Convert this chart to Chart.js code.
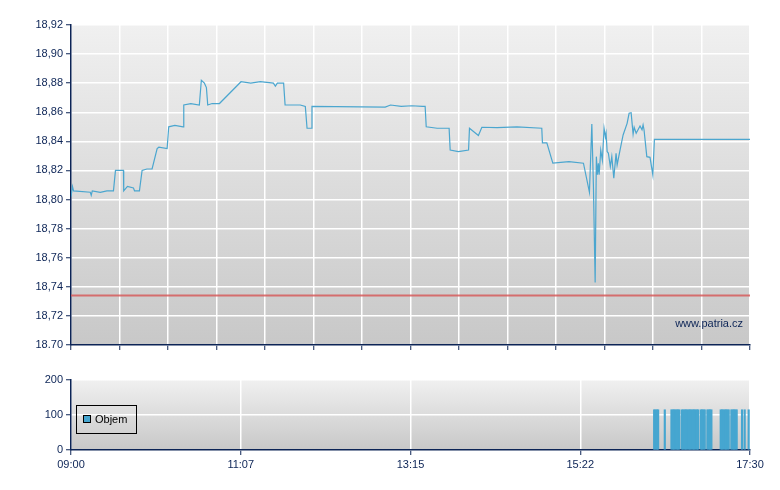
<!DOCTYPE html>
<html>
<head>
<meta charset="utf-8">
<script src="https://cdn.jsdelivr.net/npm/chart.js@4/dist/chart.umd.min.js"></script>
<style>
body { margin: 0; background: #fff; }
#wrap { position: relative; width: 780px; height: 490px; }
#priceChart { position: absolute; left: 0; top: 0; }
#volChart { position: absolute; left: 0; top: 360px; }
</style>
</head>
<body>
<div id="wrap">
  <canvas id="priceChart" width="780" height="360"></canvas>
  <canvas id="volChart" width="780" height="130"></canvas>
</div>
<script>
// minuty od 09:00
const priceMinutes = [0, 1.1, 1.9, 14.5, 15.2, 16, 22, 27, 31.9, 33.4, 39.4, 39.6, 42.4, 46.9, 47.7, 51.4,
  53.4, 57, 60.9, 64.7, 66, 72.2, 73.4, 78, 84.2, 84.7, 90, 96.4, 97.9, 100.2, 101.7, 102.7, 106, 111.5,
  127.7, 135, 142.2, 152, 153.5, 155, 159.7, 160.8, 172.2, 176, 177.3, 180.5, 181, 236, 240, 248, 256, 264,
  266, 266.8, 275, 284, 284.8, 291, 298.6, 299.3, 306, 308.6, 320, 335, 353.6, 354.1, 357.4, 361.9, 374,
  384.9, 389.4, 391.2, 392.4, 393.7, 394.6, 395.4, 396.1, 396.7, 397.9, 399.1, 400.4, 401.4, 401.9, 402.7,
  403.6, 405.1, 406.2, 407.7, 409.4, 410.2, 411.9, 412.9, 414.7, 417.7, 419.2, 420.7, 422.2, 423, 424.5,
  427.4, 428.9, 429.7, 430.4, 432.5, 434.9, 437, 438.2, 510];
const priceValues = [18.802, 18.809, 18.806, 18.805, 18.803, 18.806, 18.805, 18.806, 18.806, 18.820, 18.820,
  18.806, 18.809, 18.808, 18.806, 18.806, 18.820, 18.821, 18.821, 18.835, 18.836, 18.835, 18.850, 18.851,
  18.850, 18.865, 18.866, 18.865, 18.882, 18.880, 18.877, 18.865, 18.866, 18.866, 18.881, 18.880, 18.881,
  18.880, 18.878, 18.880, 18.880, 18.865, 18.865, 18.864, 18.849, 18.849, 18.864, 18.8636, 18.865, 18.864,
  18.8645, 18.864, 18.864, 18.850, 18.849, 18.849, 18.834, 18.833, 18.834, 18.849, 18.844, 18.8497, 18.8495,
  18.850, 18.849, 18.839, 18.839, 18.825, 18.826, 18.825, 18.805, 18.852, 18.809, 18.743, 18.8295, 18.817,
  18.825, 18.817, 18.834, 18.827, 18.849, 18.843, 18.8456, 18.833, 18.832, 18.8226, 18.8295, 18.8146,
  18.8318, 18.8238, 18.8318, 18.8364, 18.8444, 18.8524, 18.8593, 18.8597, 18.845, 18.8497, 18.8456,
  18.8506, 18.848, 18.8513, 18.848, 18.8295, 18.829, 18.817, 18.8414, 18.8414];
const prevClose = 18.734;

const volMinutes = [438, 439, 440, 441, 446, 451, 452, 453, 454, 455, 456, 457, 459, 460, 461, 462, 463, 464,
  465, 466, 467, 468, 469, 470, 471, 473, 474, 475, 476, 478, 479, 480, 481, 488, 489, 490, 491, 492, 493,
  494, 496, 497, 498, 499, 500, 504, 506, 509];
const volValues = volMinutes.map(() => 115);

const priceTicks = [18.70, 18.72, 18.74, 18.76, 18.78, 18.80, 18.82, 18.84, 18.86, 18.88, 18.90, 18.92];
const priceTickLabels = ['18.70', '18,72', '18,74', '18,76', '18,78', '18,80', '18,82', '18,84', '18,86', '18,88', '18,90', '18,92'];
const volTicks = [0, 100, 200];
const timeTicks = [0, 127.5, 255, 382.5, 510];
const timeTickLabels = ['09:00', '11:07', '13:15', '15:22', '17:30'];

const navy = '#0c2456';
const font = { family: 'Liberation Sans, Arial, sans-serif', size: 11 };

const plotBackground = {
    id: 'plotBackground',
    beforeDraw(chart) {
        const { ctx, chartArea: a } = chart;
        const g = ctx.createLinearGradient(0, a.top, 0, a.bottom);
        g.addColorStop(0, '#f0f0f0');
        g.addColorStop(1, '#c8c8c8');
        ctx.save();
        ctx.fillStyle = g;
        ctx.fillRect(a.left, a.top, a.right - a.left, a.bottom - a.top);
        ctx.restore();
    }
};

const watermark = {
    id: 'watermark',
    afterDraw(chart) {
        const { ctx, chartArea: a } = chart;
        ctx.save();
        ctx.font = '11px Liberation Sans, Arial, sans-serif';
        ctx.fillStyle = navy;
        ctx.textAlign = 'right';
        ctx.textBaseline = 'middle';
        ctx.fillText('www.patria.cz', a.right - 7, a.bottom - 21);
        ctx.restore();
    }
};

const boxLegend = {
    id: 'boxLegend',
    afterDraw(chart) {
        const { ctx, chartArea: a } = chart;
        const ds = chart.data.datasets[0];
        ctx.save();
        ctx.strokeStyle = '#000';
        ctx.lineWidth = 1;
        ctx.strokeRect(a.left + 5.5, a.top + 25.5, 60, 28);
        ctx.fillStyle = ds.backgroundColor;
        ctx.fillRect(a.left + 12.5, a.top + 35.5, 7, 7);
        ctx.strokeRect(a.left + 12.5, a.top + 35.5, 7, 7);
        ctx.fillStyle = '#000';
        ctx.font = '11px Liberation Sans, Arial, sans-serif';
        ctx.textBaseline = 'middle';
        ctx.fillText(ds.label, a.left + 24, a.top + 40);
        ctx.restore();
    }
};

const priceChart = new Chart(document.getElementById('priceChart'), {
    type: 'line',
    data: {
        datasets: [{
            label: 'Cena',
            data: priceMinutes.map((m, i) => ({ x: m, y: priceValues[i] })),
            borderColor: '#4ba6cf',
            borderWidth: 1.2,
            pointRadius: 0,
            tension: 0
        }, {
            label: 'Předchozí závěr',
            data: [{ x: 0, y: prevClose }, { x: 510, y: prevClose }],
            borderColor: 'rgba(214, 92, 92, 0.85)',
            borderWidth: 2,
            pointRadius: 0
        }]
    },
    options: {
        responsive: false,
        animation: false,
        layout: { padding: { top: 25, right: 30, left: 0, bottom: 0 } },
        plugins: { legend: { display: false }, tooltip: { enabled: false } },
        scales: {
            x: {
                type: 'linear',
                min: 0,
                max: 510,
                afterBuildTicks: scale => {
                    const t = [];
                    for (let i = 0; i <= 14; i++) t.push({ value: i * 510 / 14 });
                    scale.ticks = t;
                },
                afterFit: scale => { scale.height = 15; },
                ticks: { display: false },
                grid: { color: '#fff', lineWidth: 1.5, tickColor: navy, tickLength: 5, tickWidth: 1 },
                border: { color: navy, width: 1.5 }
            },
            y: {
                min: 18.70,
                max: 18.92,
                afterBuildTicks: scale => { scale.ticks = priceTicks.map(v => ({ value: v })); },
                afterFit: scale => { scale.width = 71; },
                ticks: {
                    font: font,
                    color: navy,
                    padding: 3,
                    callback: (v, i) => priceTickLabels[i]
                },
                grid: { color: '#fff', lineWidth: 1.5, tickColor: navy, tickLength: 5, tickWidth: 1 },
                border: { color: navy, width: 1.5 }
            }
        }
    },
    plugins: [plotBackground, watermark]
});

const volChart = new Chart(document.getElementById('volChart'), {
    type: 'bar',
    data: {
        datasets: [{
            label: 'Objem',
            data: volMinutes.map((m, i) => ({ x: m, y: volValues[i] })),
            backgroundColor: '#46a6d0',
            borderWidth: 0,
            barThickness: 1.5
        }]
    },
    options: {
        responsive: false,
        animation: false,
        layout: { padding: { top: 20, right: 30, left: 0, bottom: 0 } },
        plugins: { legend: { display: false }, tooltip: { enabled: false } },
        scales: {
            x: {
                type: 'linear',
                min: 0,
                max: 510,
                offset: false,
                afterBuildTicks: scale => { scale.ticks = timeTicks.map(v => ({ value: v })); },
                afterFit: scale => { scale.height = 40; },
                ticks: {
                    font: font,
                    color: navy,
                    padding: 3,
                    maxRotation: 0,
                    callback: (v, i) => timeTickLabels[i]
                },
                grid: { color: '#fff', lineWidth: 1.5, tickColor: navy, tickLength: 5, tickWidth: 1, offset: false },
                border: { color: navy, width: 1.5 }
            },
            y: {
                min: 0,
                max: 200,
                afterBuildTicks: scale => { scale.ticks = volTicks.map(v => ({ value: v })); },
                afterFit: scale => { scale.width = 71; },
                ticks: { font: font, color: navy, padding: 3 },
                grid: { color: '#fff', lineWidth: 1.5, tickColor: navy, tickLength: 5, tickWidth: 1 },
                border: { color: navy, width: 1.5 }
            }
        }
    },
    plugins: [plotBackground, boxLegend]
});
</script>
</body>
</html>
